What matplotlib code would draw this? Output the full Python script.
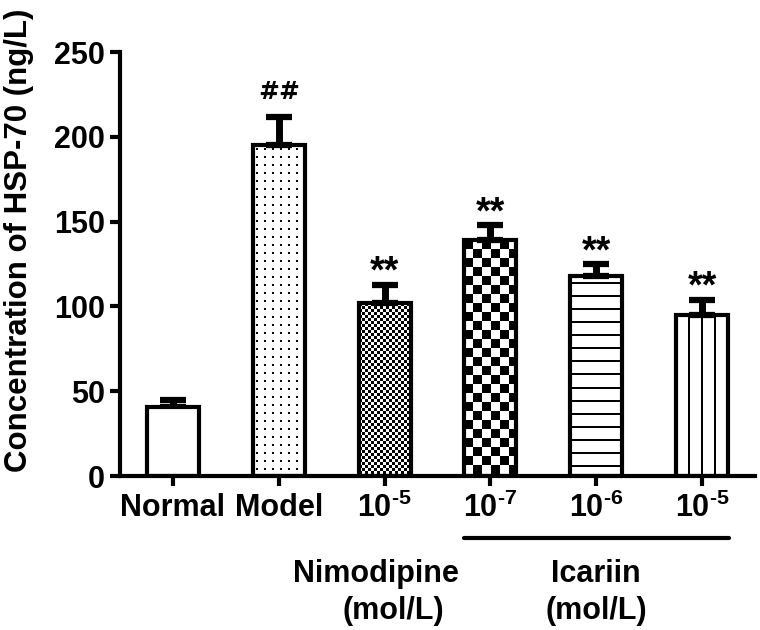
import matplotlib
matplotlib.use("Agg")
import matplotlib.pyplot as plt
import numpy as np
from matplotlib.colors import ListedColormap
from matplotlib.lines import Line2D
import matplotlib.transforms as mtransforms

plt.rcParams['font.family'] = ['Liberation Sans', 'DejaVu Sans']
plt.rcParams['font.weight'] = 'bold'
plt.rcParams['mathtext.fontset'] = 'custom'
plt.rcParams['mathtext.bf'] = 'Liberation Sans:bold'
plt.rcParams['mathtext.rm'] = 'Liberation Sans'

# data
groups = ['Normal', 'Model', r'$\mathbf{10}^{\text{-5}}$', r'$\mathbf{10}^{\text{-7}}$',
          r'$\mathbf{10}^{\text{-6}}$', r'$\mathbf{10}^{\text{-5}}$']
means = [40.5, 195.0, 102.0, 139.0, 118.0, 95.0]
sems = [4.5, 16.5, 10.8, 8.8, 6.9, 9.0]
marks = ['', '##', '**', '**', '**', '**']
textures = ['none', 'dots', 'fine', 'coarse', 'hlines', 'vlines']


def pattern(kind, w, h):
    yy, xx = np.mgrid[0:h, 0:w]
    if kind == 'dots':
        m = (xx % 8 >= 3) & (xx % 8 < 5) & (yy % 8 >= 3) & (yy % 8 < 5)
    elif kind == 'fine':
        m = (xx // 3 + yy // 3) % 2 == 0
    elif kind == 'coarse':
        m = (xx // 9 + yy // 9) % 2 == 0
    elif kind == 'hlines':
        m = (yy + 6) % 13 < 2
    elif kind == 'vlines':
        m = (xx + 1) % 13 < 2
    else:
        m = np.zeros((h, w), bool)
    return m.astype(float)


fig = plt.figure(figsize=(7.6, 6.3), dpi=100)
ax = fig.add_axes([120 / 760, 154 / 630, 635 / 760, 424 / 630])
ax.set_xlim(-0.5, 5.5)
ax.set_ylim(0, 250)

x = np.arange(len(groups))
width = 0.49
cmap = ListedColormap(['white', 'black'])

for xi, m, kind in zip(x, means, textures):
    if kind == 'none':
        continue
    p0 = ax.transData.transform((xi - width / 2, 0))
    p1 = ax.transData.transform((xi + width / 2, m))
    w = max(int(round(p1[0] - p0[0])), 1)
    h = max(int(round(p1[1] - p0[1])), 1)
    ax.imshow(pattern(kind, w, h), cmap=cmap, vmin=0, vmax=1,
              extent=(xi - width / 2, xi + width / 2, 0, m),
              interpolation='nearest', aspect='auto', zorder=1)

ax.errorbar(x, means, yerr=[np.zeros(len(sems)), sems], fmt='none',
            ecolor='black', elinewidth=5, capsize=9.5, capthick=4.5,
            zorder=1.5)
ax.bar(x, means, width=width, color=['white'] + ['none'] * 5,
       edgecolor='black', linewidth=3.0, zorder=2)

for xi, m, s, t in zip(x, means, sems, marks):
    if not t:
        continue
    if t == '##':
        ax.annotate(t, (xi, m + s), xytext=(0, 13), textcoords='offset points',
                    ha='center', va='baseline', fontsize=18, fontweight='bold',
                    family='DejaVu Sans')
    else:
        ax.annotate(t, (xi, m + s), xytext=(0, 1.5), textcoords='offset points',
                    ha='center', va='baseline', fontsize=27, fontweight='bold')

ax.set_xlim(-0.5, 5.5)
ax.set_ylim(0, 250)
ax.set_yticks([0, 50, 100, 150, 200, 250])
ax.set_xticks(x)
ax.set_xticklabels(groups)
for sp in ['top', 'right']:
    ax.spines[sp].set_visible(False)
for sp in ['left', 'bottom']:
    ax.spines[sp].set_linewidth(3.0)
ax.tick_params(axis='both', width=3.0, length=7, labelsize=22)
ax.tick_params(axis='x', pad=5)
ax.tick_params(axis='y', pad=4)

fig.text(19 / 760, 1 - 240 / 630, 'Concentration of HSP-70 (ng/L)',
         rotation=90, ha='center', va='center', fontsize=22.5, fontweight='bold')

trans = mtransforms.blended_transform_factory(ax.transData, ax.transAxes)
ax.add_line(Line2D([3 - 0.25, 5 + 0.25], [-0.147, -0.147], transform=trans,
                   color='black', linewidth=3.0, solid_capstyle='round',
                   clip_on=False))
ax.text(1.92, -0.25, 'Nimodipine', transform=trans, ha='center',
        va='baseline', fontsize=22, fontweight='bold')
ax.text(2.08, -0.337, '(mol/L)', transform=trans, ha='center',
        va='baseline', fontsize=22, fontweight='bold')
ax.text(4.0, -0.25, 'Icariin', transform=trans, ha='center',
        va='baseline', fontsize=22, fontweight='bold')
ax.text(4.0, -0.337, '(mol/L)', transform=trans, ha='center',
        va='baseline', fontsize=22, fontweight='bold')

fig.savefig('out.png', dpi=100)
